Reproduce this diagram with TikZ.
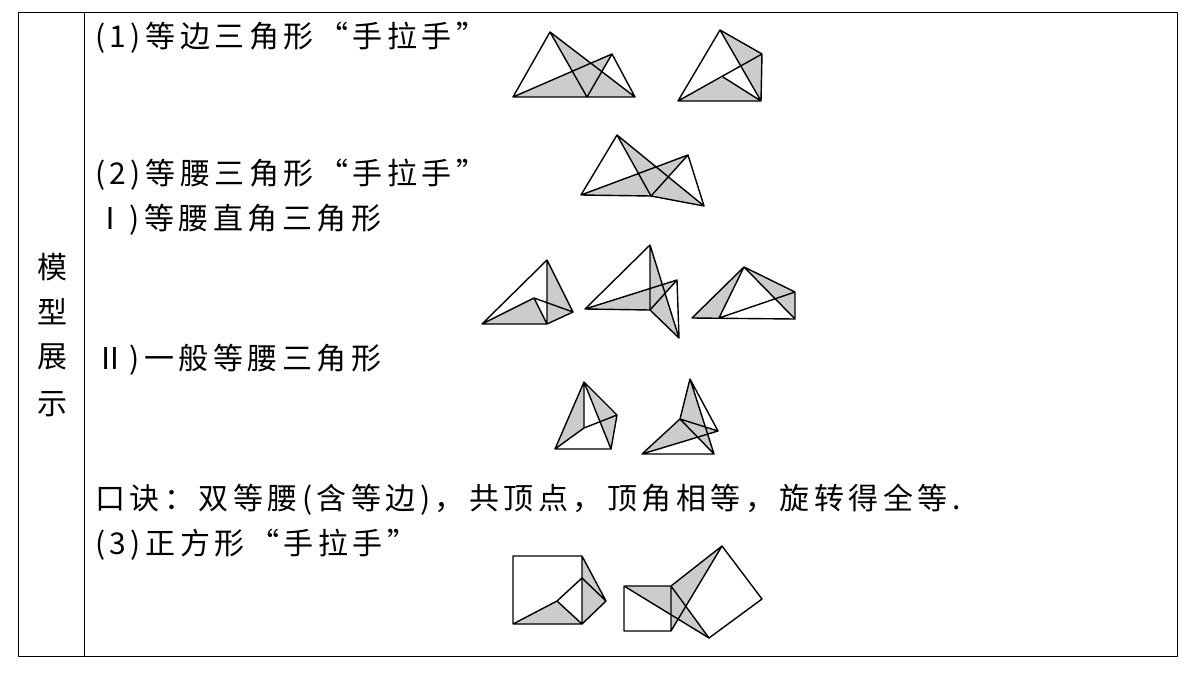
\documentclass[tikz,border=0pt]{standalone}
\usepackage{fontspec}
\setmainfont{Noto Sans CJK SC}[LetterSpace=15]
\begin{document}
\begin{tikzpicture}[x=1pt,y=-1pt,line join=round,
  ln/.style={line width=1.4pt},
  sh/.style={fill=black!20},
  txt/.style={anchor=west,inner sep=0pt,font=\fontsize{30}{32}\selectfont}]
\useasboundingbox (0,0) rectangle (1200,675);
\draw[line width=0.8pt] (18,12) rectangle (1177,656);
\draw[line width=0.8pt] (84,12) -- (84,656);
\foreach \c/\y in {模/267,型/312,展/357,示/404}
  \node[font=\fontsize{30}{32}\selectfont,inner sep=0pt] at (52,\y) {\c};
\node[txt] (t1) at (95,38) {(1)等边三角形“手拉手”};
\node[txt] (t2) at (95,175) {(2)等腰三角形“手拉手”};
\node[txt] (t3) at (95,220) {Ⅰ)等腰直角三角形};
\node[txt] (t4) at (95,360) {Ⅱ)一般等腰三角形};
\node[txt] (t5) at (95,500) {口诀：双等腰(含等边)，共顶点，顶角相等，旋转得全等.};
\node[txt] (t6) at (95,545) {(3)正方形“手拉手”};
% Fig 1a
\begin{scope}
\coordinate (A) at (550,32);\coordinate (B) at (513,97);\coordinate (C) at (587,97);\coordinate (D) at (612,54);\coordinate (E) at (635,97);
\fill[sh] (A)--(C)--(E)--cycle; \fill[sh] (B)--(C)--(D)--cycle;
\draw[ln] (A)--(B)--(E)--(D)--(C)--(A)--(E) (B)--(D);
\end{scope}
% Fig 1b
\begin{scope}
\coordinate (A) at (720,30);\coordinate (B) at (678,101);\coordinate (C) at (761,101);\coordinate (D) at (762,54);\coordinate (E) at (723,77);
\fill[sh] (A)--(D)--(C)--cycle; \fill[sh] (B)--(E)--(C)--cycle;
\draw[ln] (A)--(B)--(C)--(A)--(D)--(C)--(E) (B)--(D);
\end{scope}
% Fig 2
\begin{scope}
\coordinate (A) at (617,135);\coordinate (B) at (581,195);\coordinate (C) at (651,196);\coordinate (D) at (688,155);\coordinate (E) at (704,206);
\fill[sh] (A)--(C)--(E)--cycle; \fill[sh] (B)--(C)--(D)--cycle;
\draw[ln] (A)--(B)--(C)--(A)--(E)--(D)--(C)--(E) (B)--(D);
\end{scope}
% I-a
\begin{scope}
\coordinate (A) at (547,260);\coordinate (B) at (482,324);\coordinate (C) at (547,324);\coordinate (D) at (573,312);\coordinate (E) at (534,298);
\fill[sh] (A)--(C)--(D)--cycle; \fill[sh] (B)--(E)--(C)--cycle;
\draw[ln] (A)--(B)--(C)--(A)--(D)--(C)--(E)--(B) (E)--(D);
\end{scope}
% I-b
\begin{scope}
\coordinate (A) at (650,245);\coordinate (B) at (585,309);\coordinate (C) at (650,310);\coordinate (D) at (677,280);\coordinate (E) at (679,338);
\fill[sh] (B)--(C)--(D)--cycle; \fill[sh] (A)--(C)--(E)--cycle;
\draw[ln] (A)--(B)--(C)--(A)--(E)--(D)--(C)--(E) (B)--(D);
\end{scope}
% I-c
\begin{scope}
\coordinate (A) at (744,267);\coordinate (B) at (692,318);\coordinate (C) at (719,318);\coordinate (D) at (795,292);\coordinate (E) at (795,319);
\fill[sh] (A)--(B)--(C)--cycle; \fill[sh] (A)--(D)--(E)--cycle;
\draw[ln] (A)--(B)--(E)--(D)--(A)--(C) (A)--(E) (C)--(D);
\end{scope}
% II-a
\begin{scope}
\coordinate (A) at (584,382);\coordinate (B) at (555,449);\coordinate (C) at (611,449);\coordinate (D) at (617,415);\coordinate (E) at (584,428);
\fill[sh] (A)--(B)--(E)--cycle; \fill[sh] (A)--(C)--(D)--cycle;
\draw[ln] (A)--(B)--(C)--(A)--(D)--(C) (A)--(E)--(B) (E)--(D);
\end{scope}
% II-b
\begin{scope}
\coordinate (A) at (690,379);\coordinate (B) at (642,454);\coordinate (C) at (714,454);\coordinate (D) at (718,431);\coordinate (E) at (680,419);
\fill[sh] (A)--(E)--(C)--cycle; \fill[sh] (B)--(E)--(D)--cycle;
\draw[ln] (A)--(E)--(B)--(C)--(E)--(D)--(A)--(C) (B)--(D);
\end{scope}
% Square a
\begin{scope}
\coordinate (P) at (513,556);\coordinate (Q) at (582,556);\coordinate (R) at (582,624);\coordinate (S) at (513,624);
\coordinate (U) at (557,601);\coordinate (V) at (582,578);\coordinate (W) at (606,601);
\fill[sh] (S)--(U)--(R)--cycle; \fill[sh] (Q)--(W)--(R)--cycle;
\draw[ln] (P)--(Q)--(R)--(S)--cycle (R)--(U)--(V)--(W)--cycle (S)--(U) (Q)--(W);
\end{scope}
% Square b
\begin{scope}
\coordinate (P) at (624,586);\coordinate (Q) at (671,586);\coordinate (R) at (671,631);\coordinate (S) at (624,631);
\coordinate (U) at (722,546);\coordinate (V) at (762,599);\coordinate (W) at (709,638);
\fill[sh] (P)--(Q)--(W)--cycle; \fill[sh] (R)--(Q)--(U)--cycle;
\draw[ln] (P)--(Q)--(R)--(S)--cycle (Q)--(U)--(V)--(W)--cycle (P)--(W) (R)--(U);
\end{scope}
\end{tikzpicture}
\end{document}
